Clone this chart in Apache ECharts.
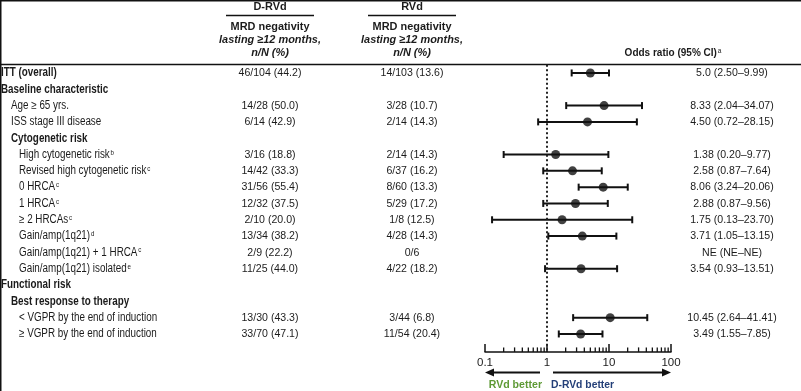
<!DOCTYPE html>
<html><head><meta charset="utf-8">
<script src="https://cdn.jsdelivr.net/npm/echarts@6/dist/echarts.min.js"></script>
<style>html,body{margin:0;padding:0;background:#fff}#c{width:801px;height:391px}</style>
</head><body><div id="c"></div>
<script>
// ---------------- DATA ----------------
const rowLabels = [
  'ITT (overall)', 'Baseline characteristic', 'Age \u2265 65 yrs.', 'ISS stage III disease',
  'Cytogenetic risk', 'High cytogenetic risk', 'Revised high cytogenetic risk', '0 HRCA', '1 HRCA',
  '\u2265 2 HRCAs', 'Gain/amp(1q21)', 'Gain/amp(1q21) + 1 HRCA', 'Gain/amp(1q21) isolated',
  'Functional risk', 'Best response to therapy', '< VGPR by the end of induction', '\u2265 VGPR by the end of induction'
];
const rowFootnotes = ['', '', '', '', '', 'b', 'c', 'c', 'c', 'c', 'd', 'c', 'e', '', '', '', ''];
const rowLevel = [0, 0, 1, 1, 1, 2, 2, 2, 2, 2, 2, 2, 2, 0, 1, 2, 2];
const rowHeading = [true, true, false, false, true, false, false, false, false, false, false, false, false, true, true, false, false];
const drvdText = ['46/104 (44.2)', '', '14/28 (50.0)', '6/14 (42.9)', '', '3/16 (18.8)', '14/42 (33.3)', '31/56 (55.4)',
  '12/32 (37.5)', '2/10 (20.0)', '13/34 (38.2)', '2/9 (22.2)', '11/25 (44.0)', '', '', '13/30 (43.3)', '33/70 (47.1)'];
const rvdText = ['14/103 (13.6)', '', '3/28 (10.7)', '2/14 (14.3)', '', '2/14 (14.3)', '6/37 (16.2)', '8/60 (13.3)',
  '5/29 (17.2)', '1/8 (12.5)', '4/28 (14.3)', '0/6', '4/22 (18.2)', '', '', '3/44 (6.8)', '11/54 (20.4)'];
const orText = ['5.0 (2.50\u20139.99)', '', '8.33 (2.04\u201334.07)', '4.50 (0.72\u201328.15)', '', '1.38 (0.20\u20139.77)',
  '2.58 (0.87\u20137.64)', '8.06 (3.24\u201320.06)', '2.88 (0.87\u20139.56)', '1.75 (0.13\u201323.70)', '3.71 (1.05\u201313.15)',
  'NE (NE\u2013NE)', '3.54 (0.93\u201313.51)', '', '', '10.45 (2.64\u201341.41)', '3.49 (1.55\u20137.85)'];
const orEst  = [5.0, null, 8.33, 4.50, null, 1.38, 2.58, 8.06, 2.88, 1.75, 3.71, null, 3.54, null, null, 10.45, 3.49];
const ciLow  = [2.50, null, 2.04, 0.72, null, 0.20, 0.87, 3.24, 0.87, 0.13, 1.05, null, 0.93, null, null, 2.64, 1.55];
const ciHigh = [9.99, null, 34.07, 28.15, null, 9.77, 7.64, 20.06, 9.56, 23.70, 13.15, null, 13.51, null, null, 41.41, 7.85];
const tickLabels = ['0.1', '1', '10', '100'];
const minorTickValues = [0.2, 0.3, 0.4, 0.5, 0.6, 0.7, 0.8, 0.9, 2, 3, 4, 5, 6, 7, 8, 9, 20, 30, 40, 50, 60, 70, 80, 90];
const directionLabels = ['RVd better', 'D-RVd better'];
const headerGroups = ['D-RVd', 'RVd'];
const headerSub = ['MRD negativity', 'lasting \u226512 months,', 'n/N (%)'];
const orHeader = 'Odds ratio (95% CI)';

// ---------------- LAYOUT / STYLE ----------------
const FONT = '"Liberation Sans", Arial, sans-serif';
const INK = '#1b1b1b';
const indentPx = [1, 11, 19];
const COLX = { drvd: 270, rvd: 412, or: 732 };
const Y_MIN = -0.5, Y_MAX = 17.1;
const GRID_TOP = 64.8, GRID_BOTTOM = 39.1;

// condensed text element (horizontal scale emulates a condensed face)
function txt(x, y, text, o) {
  o = o || {};
  return {
    type: 'text', x: x, y: y, scaleX: o.sx || 0.85, scaleY: 1, silent: true,
    style: {
      x: 0, y: 0, text: text, align: o.align || 'left', verticalAlign: 'middle',
      fontFamily: FONT, fontSize: o.fs || 12, fontWeight: o.bold ? 'bold' : 'normal',
      fontStyle: o.italic ? 'italic' : 'normal', fill: o.color || INK,
      rich: { sup: { fontSize: 7.5, fontFamily: FONT, fill: o.color || INK, verticalAlign: 'top', padding: [0, 0, 0, 1] } }
    }
  };
}

const chart = echarts.init(document.getElementById('c'), null, { renderer: 'canvas' });

const estData = [], ciData = [];
orEst.forEach((v, i) => {
  if (v != null) { estData.push([v, i]); ciData.push([ciLow[i], ciHigh[i], i]); }
});

const graphics = [];
graphics.push({ type: 'line', shape: { x1: 0, y1: 0.75, x2: 801, y2: 0.75 }, style: { stroke: '#111', lineWidth: 1.5 }, silent: true });
graphics.push({ type: 'line', shape: { x1: 0.75, y1: 0, x2: 0.75, y2: 391 }, style: { stroke: '#111', lineWidth: 1.5 }, silent: true });
graphics.push({ type: 'line', shape: { x1: 0, y1: 64.5, x2: 801, y2: 64.5 }, style: { stroke: '#111', lineWidth: 1.5 }, silent: true });
[COLX.drvd, COLX.rvd].forEach((cx, k) => {
  graphics.push(txt(cx, 7, headerGroups[k], { align: 'center', bold: true, fs: 11.5, sx: 0.95 }));
  graphics.push({ type: 'line', shape: { x1: cx - 44, y1: 15.5, x2: cx + 44, y2: 15.5 }, style: { stroke: '#111', lineWidth: 1.5 }, silent: true });
  headerSub.forEach((t, j) => {
    graphics.push(txt(cx, 26.5 + j * 13.3, t, { align: 'center', bold: true, italic: j > 0, fs: 11.5, sx: 0.95 }));
  });
});
graphics.push(txt(673, 53, orHeader + '{sup|a}', { align: 'center', bold: true, fs: 11.5, sx: 0.87 }));

const option = {
  animation: false,
  backgroundColor: '#fff',
  grid: [
    { left: 485, right: 130, top: GRID_TOP, bottom: GRID_BOTTOM },
    { left: 0, right: 0, top: GRID_TOP, bottom: GRID_BOTTOM }
  ],
  xAxis: [
    { type: 'log', logBase: 10, min: 0.1, max: 100, gridIndex: 0,
      axisLine: { show: true, onZero: false, lineStyle: { color: '#111', width: 1.5 } },
      axisTick: { show: true, inside: true, length: 8, lineStyle: { color: '#111', width: 1.5 } },
      axisLabel: { color: INK, fontFamily: FONT, fontSize: 11.5, margin: 5, formatter: (v, idx) => tickLabels[idx] },
      splitLine: { show: false }, minorTick: { show: false } },
    { type: 'value', min: 0, max: 801, gridIndex: 1, show: false }
  ],
  yAxis: [
    { type: 'value', min: Y_MIN, max: Y_MAX, inverse: true, gridIndex: 0, show: false },
    { type: 'value', min: Y_MIN, max: Y_MAX, inverse: true, gridIndex: 1, show: false }
  ],
  graphic: graphics,
  series: [
    { // row texts
      type: 'custom', xAxisIndex: 1, yAxisIndex: 1, silent: true, clip: false,
      data: rowLabels.map((_, i) => [0, i]),
      renderItem: (params, api) => {
        const i = params.dataIndex;
        const y = api.coord([0, i])[1];
        const children = [];
        children.push(txt(indentPx[rowLevel[i]], y,
          rowLabels[i] + (rowFootnotes[i] ? '{sup|' + rowFootnotes[i] + '}' : ''),
          { bold: rowHeading[i], fs: 12, sx: 0.82 }));
        [[drvdText[i], COLX.drvd], [rvdText[i], COLX.rvd], [orText[i], COLX.or]].forEach(([t, cx]) => {
          if (t) children.push(txt(cx, y, t, { align: 'center', fs: 11.5, sx: 0.92 }));
        });
        return { type: 'group', children };
      }
    },
    { // confidence intervals
      type: 'custom', xAxisIndex: 0, yAxisIndex: 0, silent: true, clip: false,
      data: ciData,
      renderItem: (params, api) => {
        const lo = api.coord([api.value(0), api.value(2)]);
        const hi = api.coord([api.value(1), api.value(2)]);
        const h = 3.5;
        const st = { stroke: '#111', lineWidth: 2 };
        return { type: 'group', children: [
          { type: 'line', shape: { x1: lo[0], y1: lo[1], x2: hi[0], y2: hi[1] }, style: st },
          { type: 'line', shape: { x1: lo[0], y1: lo[1] - h, x2: lo[0], y2: lo[1] + h }, style: st },
          { type: 'line', shape: { x1: hi[0], y1: hi[1] - h, x2: hi[0], y2: hi[1] + h }, style: st }
        ] };
      }
    },
    { // point estimates + reference line
      type: 'scatter', xAxisIndex: 0, yAxisIndex: 0, silent: true,
      data: estData, symbol: 'circle', symbolSize: 9, itemStyle: { color: '#111' },
      markLine: { silent: true, symbol: 'none', label: { show: false },
        lineStyle: { color: '#222', width: 2, type: [2, 2.5] }, data: [{ xAxis: 1 }] }
    },
    { // minor ticks
      type: 'custom', xAxisIndex: 0, yAxisIndex: 0, silent: true, clip: false,
      data: minorTickValues.map(v => [v]),
      renderItem: (params, api) => {
        const p = api.coord([api.value(0), Y_MAX]);
        return { type: 'line', shape: { x1: p[0], y1: p[1], x2: p[0], y2: p[1] - 4.5 }, style: { stroke: '#111', lineWidth: 1.3 } };
      }
    },
    { // direction arrows and labels
      type: 'custom', xAxisIndex: 0, yAxisIndex: 0, silent: true, clip: false,
      data: [[1]],
      renderItem: (params, api) => {
        const c = api.coord([1, Y_MAX]);
        const l = api.coord([0.1, Y_MAX]);
        const r = api.coord([100, Y_MAX]);
        const ay = c[1] + 20.5, ty = c[1] + 32.5;
        const st = { stroke: '#111', lineWidth: 2 };
        return { type: 'group', children: [
          { type: 'line', shape: { x1: c[0] - 7, y1: ay, x2: l[0] + 6, y2: ay }, style: st },
          { type: 'polygon', shape: { points: [[l[0], ay], [l[0] + 9, ay - 4], [l[0] + 9, ay + 4]] }, style: { fill: '#111' } },
          { type: 'line', shape: { x1: c[0] + 6, y1: ay, x2: r[0] - 6, y2: ay }, style: st },
          { type: 'polygon', shape: { points: [[r[0], ay], [r[0] - 9, ay - 4], [r[0] - 9, ay + 4]] }, style: { fill: '#111' } },
          txt(c[0] - 5, ty, directionLabels[0], { align: 'right', bold: true, fs: 11.5, sx: 0.92, color: '#5e9a35' }),
          txt(c[0] + 4, ty, directionLabels[1], { align: 'left', bold: true, fs: 11.5, sx: 0.9, color: '#233f78' })
        ] };
      }
    }
  ]
};
chart.setOption(option);
</script>
</body></html>
